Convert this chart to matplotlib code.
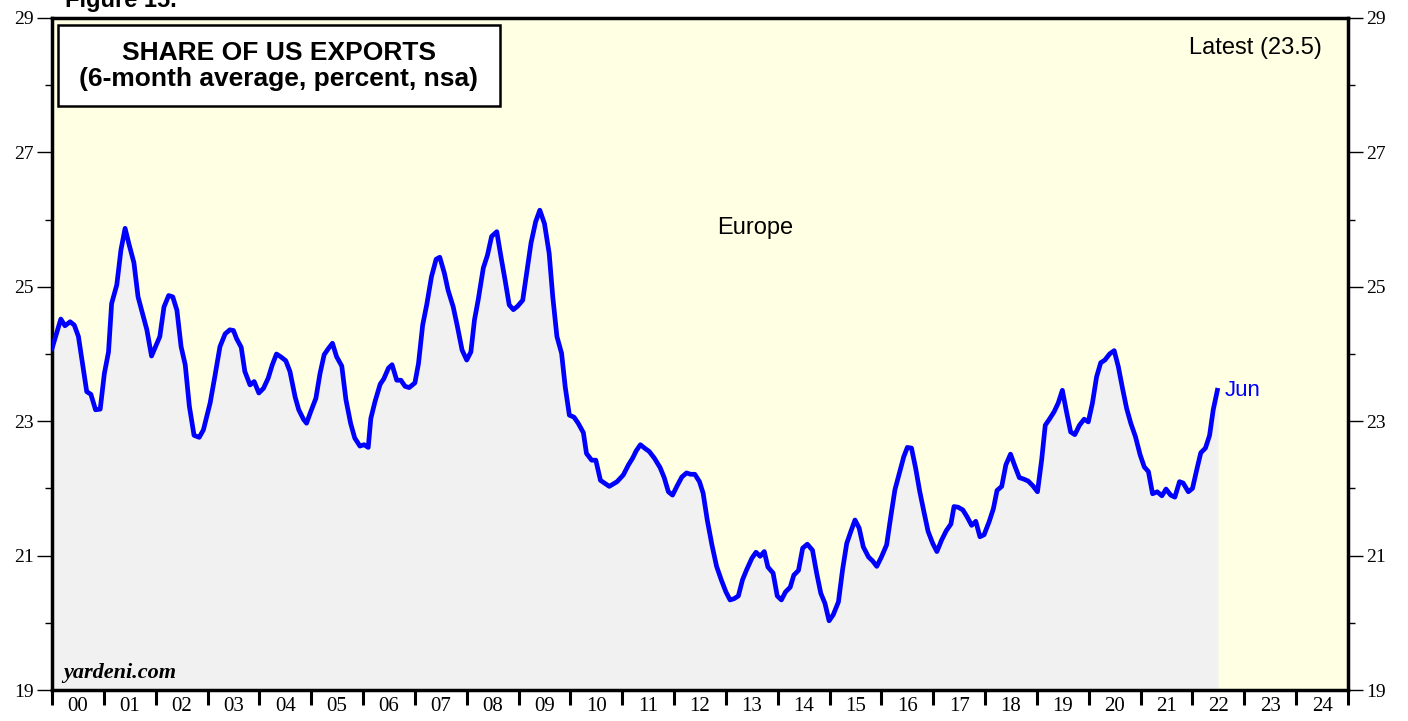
import numpy as np
import matplotlib.pyplot as plt
from matplotlib.patches import Rectangle

# decimal year, share of US exports to Europe (6-mo avg, %)
years = [2000.00, 2000.17, 2000.25, 2000.35, 2000.43, 2000.51, 2000.67, 2000.75, 2000.84, 2000.93,
         2001.01, 2001.09, 2001.15, 2001.25, 2001.33, 2001.41, 2001.49, 2001.58, 2001.66, 2001.83,
         2001.92, 2002.08, 2002.16, 2002.25, 2002.33, 2002.41, 2002.49, 2002.57, 2002.65, 2002.74,
         2002.84, 2002.92, 2003.05, 2003.14, 2003.24, 2003.34, 2003.43, 2003.50, 2003.56, 2003.65,
         2003.72, 2003.82, 2003.90, 2003.99, 2004.08, 2004.17, 2004.25, 2004.33, 2004.41, 2004.51,
         2004.59, 2004.69, 2004.76, 2004.85, 2004.91, 2004.99, 2005.09, 2005.17, 2005.25, 2005.33,
         2005.41, 2005.49, 2005.59, 2005.67, 2005.76, 2005.84, 2005.94, 2006.02, 2006.10, 2006.15,
         2006.23, 2006.33, 2006.40, 2006.49, 2006.56, 2006.65, 2006.73, 2006.81, 2006.89, 2007.00,
         2007.07, 2007.15, 2007.23, 2007.32, 2007.41, 2007.48, 2007.57, 2007.64, 2007.74, 2007.82,
         2007.91, 2008.00, 2008.08, 2008.15, 2008.22, 2008.32, 2008.40, 2008.48, 2008.58, 2008.66,
         2008.74, 2008.82, 2008.90, 2008.98, 2009.08, 2009.16, 2009.24, 2009.33, 2009.41, 2009.50,
         2009.59, 2009.66, 2009.74, 2009.83, 2009.90, 2009.98, 2010.07, 2010.15, 2010.25, 2010.31,
         2010.41, 2010.49, 2010.58, 2010.75, 2010.90, 2011.02, 2011.12, 2011.20, 2011.27, 2011.35,
         2011.43, 2011.52, 2011.62, 2011.73, 2011.81, 2011.89, 2011.97, 2012.06, 2012.15, 2012.24,
         2012.32, 2012.40, 2012.49, 2012.56, 2012.64, 2012.73, 2012.82, 2012.91, 2013.00, 2013.08,
         2013.16, 2013.24, 2013.32, 2013.40, 2013.50, 2013.58, 2013.66, 2013.74, 2013.81, 2013.91,
         2013.99, 2014.07, 2014.15, 2014.24, 2014.31, 2014.40, 2014.48, 2014.57, 2014.67, 2014.75,
         2014.83, 2014.91, 2014.99, 2015.07, 2015.17, 2015.25, 2015.33, 2015.41, 2015.49, 2015.57,
         2015.65, 2015.75, 2015.83, 2015.91, 2016.00, 2016.10, 2016.18, 2016.26, 2016.36, 2016.43,
         2016.50, 2016.58, 2016.66, 2016.74, 2016.82, 2016.90, 2016.99, 2017.07, 2017.16, 2017.25,
         2017.34, 2017.40, 2017.48, 2017.57, 2017.65, 2017.74, 2017.82, 2017.90, 2017.98, 2018.08,
         2018.16, 2018.23, 2018.32, 2018.40, 2018.49, 2018.58, 2018.66, 2018.74, 2018.83, 2018.92,
         2019.01, 2019.09, 2019.16, 2019.24, 2019.33, 2019.41, 2019.49, 2019.57, 2019.65, 2019.73,
         2019.82, 2019.91, 2019.99, 2020.07, 2020.15, 2020.23, 2020.31, 2020.40, 2020.49, 2020.57,
         2020.65, 2020.73, 2020.81, 2020.90, 2020.99, 2021.07, 2021.15, 2021.23, 2021.32, 2021.41,
         2021.49, 2021.58, 2021.66, 2021.75, 2021.82, 2021.92, 2022.00, 2022.08, 2022.16, 2022.25,
         2022.33, 2022.40, 2022.48]
share = [24.08, 24.52, 24.42, 24.48, 24.43, 24.26, 23.44, 23.40, 23.17, 23.18,
         23.71, 24.03, 24.75, 25.03, 25.55, 25.87, 25.62, 25.36, 24.85, 24.36,
         23.97, 24.26, 24.70, 24.87, 24.85, 24.65, 24.11, 23.84, 23.22, 22.79,
         22.76, 22.87, 23.27, 23.66, 24.11, 24.30, 24.36, 24.35, 24.23, 24.10,
         23.74, 23.54, 23.59, 23.42, 23.49, 23.64, 23.84, 24.00, 23.96, 23.90,
         23.74, 23.36, 23.17, 23.03, 22.97, 23.14, 23.34, 23.71, 23.99, 24.08,
         24.16, 23.96, 23.82, 23.32, 22.97, 22.75, 22.63, 22.65, 22.61, 23.04,
         23.29, 23.55, 23.63, 23.79, 23.84, 23.61, 23.61, 23.52, 23.50, 23.57,
         23.86, 24.43, 24.74, 25.15, 25.41, 25.44, 25.20, 24.95, 24.70, 24.41,
         24.06, 23.91, 24.03, 24.51, 24.80, 25.28, 25.47, 25.75, 25.82, 25.45,
         25.10, 24.73, 24.66, 24.71, 24.80, 25.22, 25.65, 25.97, 26.14, 25.94,
         25.50, 24.85, 24.26, 24.01, 23.51, 23.09, 23.06, 22.97, 22.83, 22.52,
         22.42, 22.42, 22.12, 22.03, 22.10, 22.20, 22.35, 22.45, 22.56, 22.65,
         22.60, 22.55, 22.45, 22.31, 22.16, 21.95, 21.90, 22.04, 22.17, 22.23,
         22.21, 22.21, 22.10, 21.93, 21.53, 21.16, 20.84, 20.64, 20.46, 20.34,
         20.36, 20.40, 20.64, 20.79, 20.96, 21.05, 20.99, 21.06, 20.83, 20.74,
         20.40, 20.34, 20.46, 20.53, 20.71, 20.78, 21.11, 21.17, 21.08, 20.74,
         20.44, 20.29, 20.03, 20.12, 20.31, 20.79, 21.18, 21.36, 21.53, 21.41,
         21.13, 20.98, 20.92, 20.84, 20.98, 21.16, 21.58, 21.98, 22.27, 22.47,
         22.61, 22.60, 22.30, 21.95, 21.65, 21.36, 21.18, 21.06, 21.23, 21.37,
         21.47, 21.73, 21.72, 21.68, 21.58, 21.45, 21.51, 21.28, 21.31, 21.51,
         21.70, 21.97, 22.03, 22.35, 22.51, 22.32, 22.16, 22.14, 22.11, 22.04,
         21.95, 22.42, 22.94, 23.03, 23.14, 23.27, 23.46, 23.14, 22.84, 22.80,
         22.94, 23.03, 22.99, 23.27, 23.66, 23.87, 23.91, 24.00, 24.05, 23.81,
         23.49, 23.19, 22.97, 22.77, 22.50, 22.32, 22.25, 21.92, 21.95, 21.89,
         21.99, 21.90, 21.87, 22.10, 22.08, 21.95, 22.00, 22.27, 22.53, 22.60,
         22.79, 23.17, 23.46]

year_labels = ['%02d' % (y % 100) for y in range(2000, 2025)]
y_ticks = [19, 21, 23, 25, 27, 29]

fig = plt.figure(figsize=(14.08, 7.21), dpi=100)
ax = fig.add_axes([52/1408, 1 - 690/721, 1296/1408, 672/721])
ax.set_facecolor('#ffffe3')

ax.fill_between(years, share, 19, color='#f1f1f1', zorder=1)
ax.plot(years, share, color='#0000ff', lw=3.4, zorder=3, solid_joinstyle='round')

ax.set_xlim(2000, 2025)
ax.set_ylim(19, 29)

serif = 'Liberation Serif'
ax.set_yticks(y_ticks)
ax.set_yticks(np.arange(20, 29, 2), minor=True)
ax.set_yticklabels([str(v) for v in y_ticks], fontsize=14, family=serif)
ax.tick_params(axis='y', which='major', direction='out', length=11, width=1,
               left=True, right=True, labelleft=True, labelright=True, pad=2)
ax.tick_params(axis='y', which='minor', direction='out', length=5, width=1,
               left=True, right=True)

ax.set_xticks(np.arange(2000, 2026))
ax.set_xticklabels([])
ax.set_xticks(np.arange(2000.5, 2025), minor=True)
ax.set_xticklabels(year_labels, minor=True, fontsize=15, family=serif)
ax.tick_params(axis='x', which='major', direction='out', length=11, width=2.2)
ax.tick_params(axis='x', which='minor', length=0, pad=5)

for s in ax.spines.values():
    s.set_linewidth(2.5)

# title box
ax.add_patch(Rectangle((0.0046, 0.869), 0.341, 0.1206, transform=ax.transAxes,
                       facecolor='white', edgecolor='black', lw=1.8, zorder=5))
ax.text(0.175, 0.929, 'SHARE OF US EXPORTS\n(6-month average, percent, nsa)',
        transform=ax.transAxes, ha='center', va='center', fontsize=19,
        fontweight='bold', family='Liberation Sans', linespacing=1.12, zorder=6)
ax.text(0.98, 0.955, 'Latest (23.5)', transform=ax.transAxes, ha='right', va='center',
        fontsize=17, family='Liberation Sans')
ax.text(0.5425, 0.687, 'Europe', transform=ax.transAxes, ha='center', va='center',
        fontsize=17, family='Liberation Sans')
ax.annotate('Jun', xy=(years[-1], share[-1]), xytext=(5, 0), textcoords='offset points',
            ha='left', va='center', fontsize=16, color='#0000ff', family='Liberation Sans')
ax.text(0.009, 0.01, 'yardeni.com', transform=ax.transAxes, ha='left', va='bottom',
        fontsize=16, fontweight='bold', style='italic', family=serif)

fig.text(65/1408, 1 - 1/721, 'Figure 15.', ha='left', va='center', fontsize=17,
         fontweight='bold', family='Liberation Sans')

fig.savefig('out.png', dpi=100)
